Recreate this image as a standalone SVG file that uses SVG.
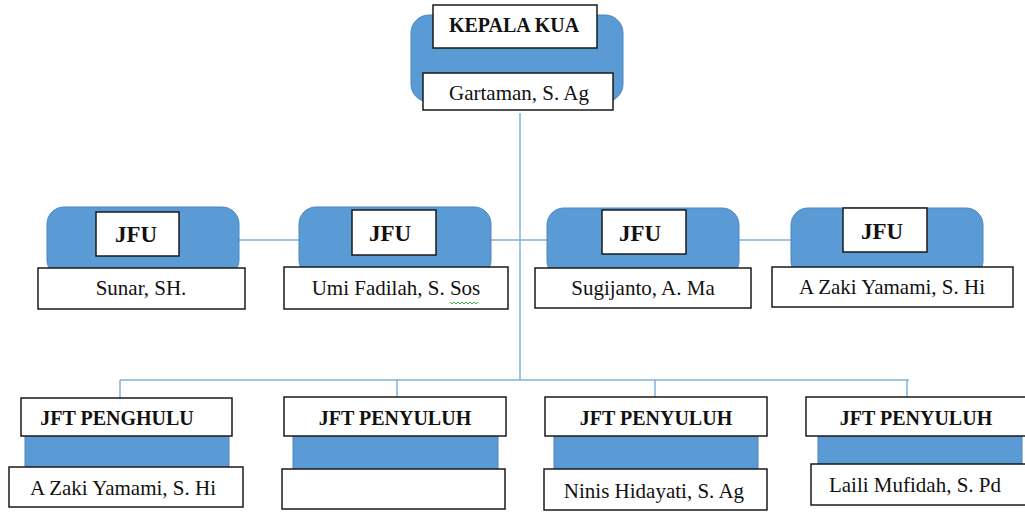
<svg xmlns="http://www.w3.org/2000/svg" width="1025" height="512" viewBox="0 0 1025 512">
<style>
.bg{fill:#ffffff}
.blue{fill:#5B9BD5;stroke:#4A86BE;stroke-width:1}
.box{fill:#ffffff;stroke:#1a1a1a;stroke-width:1.5}
.conn{fill:none;stroke:#7EB0E0;stroke-width:1.5}
.lbl{font-family:"Liberation Serif","Times New Roman",serif;font-weight:bold;font-size:20px;fill:#111;text-anchor:middle}
.jfu{font-family:"Liberation Serif","Times New Roman",serif;font-weight:bold;font-size:23px;fill:#111;text-anchor:middle}
.nm{font-family:"Liberation Serif","Times New Roman",serif;font-size:21px;fill:#111;text-anchor:middle}
.squig{fill:none;stroke:#3cb043;stroke-width:1}
</style>
<rect class="bg" x="0" y="0" width="1025" height="512"/>
<g id="connectors">
<path class="conn" d="M520,113 V380"/>
<path class="conn" d="M239,240 H299"/>
<path class="conn" d="M491,240 H547"/>
<path class="conn" d="M739,240 H791"/>
<path class="conn" d="M120,380 H909"/>
<path class="conn" d="M120,380 V398"/>
<path class="conn" d="M397,380 V397"/>
<path class="conn" d="M655,380 V397"/>
<path class="conn" d="M907,380 V397"/>
</g>
<g id="kepala">
<rect class="blue" x="411" y="15" width="212" height="87" rx="18"/>
<rect class="box" x="433" y="5" width="164" height="43"/>
<text class="lbl" x="514" y="32" font-size="19">KEPALA KUA</text>
<rect class="box" x="423" y="73" width="190" height="37"/>
<text class="nm" x="519" y="100">Gartaman, S. Ag</text>
</g>
<g id="jfu1">
<rect class="blue" x="47" y="207" width="192" height="70" rx="17"/>
<rect class="box" x="96" y="212" width="83" height="44"/>
<text class="jfu" x="136" y="242">JFU</text>
<rect class="box" x="38" y="268" width="207" height="41"/>
<text class="nm" x="141" y="295">Sunar, SH.</text>
</g>
<g id="jfu2">
<rect class="blue" x="299" y="207" width="192" height="70" rx="17"/>
<rect class="box" x="352" y="210" width="84" height="45"/>
<text class="jfu" x="390" y="241">JFU</text>
<rect class="box" x="284" y="267" width="224" height="42"/>
<text class="nm" x="396" y="295">Umi Fadilah, S. Sos</text>
<path class="squig" d="M450,302 l2,2 l2,-2 l2,2 l2,-2 l2,2 l2,-2 l2,2 l2,-2 l2,2 l2,-2 l2,2 l2,-2 l2,2 l2,-2"/>
</g>
<g id="jfu3">
<rect class="blue" x="547" y="208" width="192" height="70" rx="17"/>
<rect class="box" x="602" y="210" width="84" height="44"/>
<text class="jfu" x="640" y="241">JFU</text>
<rect class="box" x="535" y="268" width="216" height="40"/>
<text class="nm" x="643" y="295">Sugijanto, A. Ma</text>
</g>
<g id="jfu4">
<rect class="blue" x="791" y="208" width="192" height="70" rx="17"/>
<rect class="box" x="843" y="208" width="84" height="44"/>
<text class="jfu" x="882" y="239">JFU</text>
<rect class="box" x="772" y="267" width="241" height="40"/>
<text class="nm" x="892" y="294">A Zaki Yamami, S. Hi</text>
</g>
<g id="jft1">
<rect class="blue" x="25" y="430" width="204" height="40"/>
<rect class="box" x="21" y="398" width="211" height="38"/>
<text class="lbl" x="117" y="425">JFT PENGHULU</text>
<rect class="box" x="9" y="467" width="234" height="40"/>
<text class="nm" x="123" y="495">A Zaki Yamami, S. Hi</text>
</g>
<g id="jft2">
<rect class="blue" x="293" y="430" width="205" height="42"/>
<rect class="box" x="284" y="397" width="222" height="39"/>
<text class="lbl" x="395" y="425">JFT PENYULUH</text>
<rect class="box" x="282" y="469" width="223" height="40"/>
</g>
<g id="jft3">
<rect class="blue" x="554" y="430" width="204" height="42"/>
<rect class="box" x="545" y="397" width="222" height="39"/>
<text class="lbl" x="656" y="425">JFT PENYULUH</text>
<rect class="box" x="544" y="469" width="223" height="41"/>
<text class="nm" x="654" y="498">Ninis Hidayati, S. Ag</text>
</g>
<g id="jft4">
<rect class="blue" x="818" y="430" width="204" height="38"/>
<rect class="box" x="806" y="397" width="225" height="39"/>
<text class="lbl" x="916" y="425">JFT PENYULUH</text>
<rect class="box" x="811" y="464" width="220" height="41"/>
<text class="nm" x="915" y="492">Laili Mufidah, S. Pd</text>
</g>
</svg>
